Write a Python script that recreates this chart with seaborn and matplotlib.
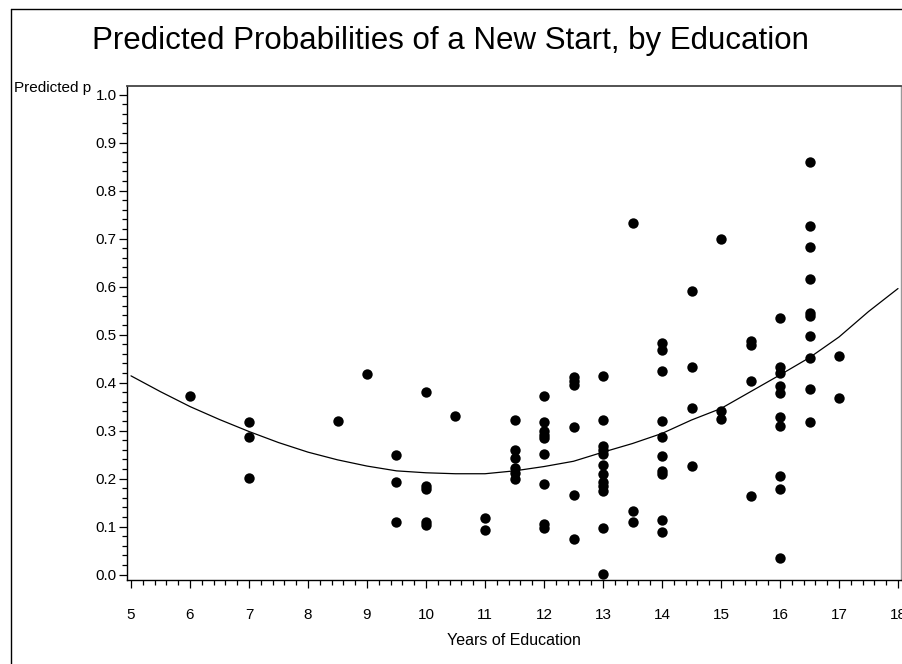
import matplotlib
matplotlib.use("Agg")
import matplotlib.pyplot as plt
from matplotlib.lines import Line2D
from matplotlib.ticker import MultipleLocator, FormatStrFormatter
import seaborn as sns
import pandas as pd

# ---- data ----
edu_6 = [0.372]
edu_7 = [0.318, 0.286, 0.201]
edu_8_5 = [0.320]
edu_9 = [0.418]
edu_9_5 = [0.250, 0.193, 0.109]
edu_10 = [0.381, 0.184, 0.179, 0.110, 0.103]
edu_10_5 = [0.330]
edu_11 = [0.117, 0.093]
edu_11_5 = [0.323, 0.259, 0.242, 0.222, 0.212, 0.200]
edu_12 = [0.372, 0.318, 0.300, 0.291, 0.284, 0.252, 0.188, 0.106, 0.097]
edu_12_5 = [0.411, 0.403, 0.395, 0.307, 0.166, 0.073]
edu_13 = [0.413, 0.322, 0.267, 0.259, 0.251, 0.228, 0.210, 0.193, 0.184, 0.174, 0.096, 0.002]
edu_13_5 = [0.732, 0.132, 0.109]
edu_14 = [0.482, 0.467, 0.425, 0.320, 0.286, 0.248, 0.216, 0.209, 0.114, 0.089]
edu_14_5 = [0.591, 0.433, 0.346, 0.226]
edu_15 = [0.699, 0.341, 0.324]
edu_15_5 = [0.487, 0.478, 0.403, 0.164]
edu_16 = [0.535, 0.432, 0.421, 0.393, 0.378, 0.329, 0.310, 0.205, 0.178, 0.035]
edu_16_5 = [0.860, 0.727, 0.683, 0.616, 0.544, 0.538, 0.497, 0.452, 0.386, 0.317]
edu_17 = [0.455, 0.367]

groups = {6: edu_6, 7: edu_7, 8.5: edu_8_5, 9: edu_9, 9.5: edu_9_5, 10: edu_10,
          10.5: edu_10_5, 11: edu_11, 11.5: edu_11_5, 12: edu_12, 12.5: edu_12_5,
          13: edu_13, 13.5: edu_13_5, 14: edu_14, 14.5: edu_14_5, 15: edu_15,
          15.5: edu_15_5, 16: edu_16, 16.5: edu_16_5, 17: edu_17}

curve_x = [5, 5.5, 6, 6.5, 7, 7.5, 8, 8.5, 9, 9.5, 10, 10.5, 11, 11.5, 12, 12.5,
           13, 13.5, 14, 14.5, 15, 15.5, 16, 16.5, 17, 17.5, 18]
curve_p = [0.414, 0.381, 0.350, 0.323, 0.298, 0.275, 0.255, 0.239, 0.226, 0.216,
           0.212, 0.210, 0.210, 0.216, 0.225, 0.236, 0.255, 0.273, 0.294, 0.322,
           0.346, 0.381, 0.416, 0.452, 0.495, 0.548, 0.596]

x_ticks = list(range(5, 19))
y_ticks = [round(0.1 * i, 1) for i in range(11)]

title = "Predicted Probabilities of a New Start, by Education"
xlabel = "Years of Education"
ylabel = "Predicted p"

# ---- build frames ----
pts = pd.DataFrame([(x, v) for x, vals in groups.items() for v in vals],
                   columns=["edu", "p"])
curve = pd.DataFrame({"edu": curve_x, "p": curve_p})

sns.set_theme(style="ticks")
plt.rcParams["font.family"] = ["Liberation Sans", "DejaVu Sans"]
plt.rcParams["text.color"] = "black"
plt.rcParams["axes.labelcolor"] = "black"
plt.rcParams["xtick.color"] = "black"
plt.rcParams["ytick.color"] = "black"

fig = plt.figure(figsize=(9.02, 6.64), dpi=100)
ax = fig.add_axes([127 / 902, 1 - 580 / 664, (901 - 127) / 902, (580 - 86) / 664])

sns.lineplot(data=curve, x="edu", y="p", ax=ax, color="black", linewidth=0.9)
sns.scatterplot(data=pts, x="edu", y="p", ax=ax, color="black", s=56,
                edgecolor="black", linewidth=0)

ax.set_xlim(5 - 4 / 59, 18 + 3 / 59)
ax.set_ylim(0 - 5.5 / 480, 1 + 8.7 / 480)
ax.set_xticks(x_ticks)
ax.set_yticks(y_ticks)
ax.yaxis.set_major_formatter(FormatStrFormatter("%.1f"))
ax.xaxis.set_minor_locator(MultipleLocator(0.2))
ax.yaxis.set_minor_locator(MultipleLocator(0.02))
ax.tick_params(axis="both", which="major", direction="out", length=6, width=0.9,
               color="black", labelsize=11, labelcolor="black")
ax.tick_params(axis="both", which="minor", direction="out", length=3.5, width=0.9,
               color="black")
ax.tick_params(axis="x", which="major", pad=14)
ax.tick_params(axis="y", which="major", pad=1.5)
ax.set_xlabel(xlabel, fontsize=11.5, labelpad=8, color="black")
ax.set_ylabel("")

for side in ["left", "bottom"]:
    ax.spines[side].set_color("black")
    ax.spines[side].set_linewidth(1.0)
ax.spines["top"].set_visible(True)
ax.spines["right"].set_visible(True)
ax.spines["top"].set_color("#444444")
ax.spines["top"].set_linewidth(1.3)
ax.spines["right"].set_color("#999999")
ax.spines["right"].set_linewidth(1.0)

fig.text(14 / 902, 1 - 81 / 664, ylabel, fontsize=11, ha="left", va="top")
fig.text(450 / 902, 1 - 41 / 664, title, fontsize=22.5, ha="center", va="center")

# outer frame lines (top and left)
fig.add_artist(Line2D([11 / 902, 1], [1 - 9 / 664, 1 - 9 / 664], color="black", linewidth=1.0))
fig.add_artist(Line2D([11 / 902, 11 / 902], [0, 1 - 9 / 664], color="black", linewidth=1.0))

fig.savefig("out.png", dpi=100)
